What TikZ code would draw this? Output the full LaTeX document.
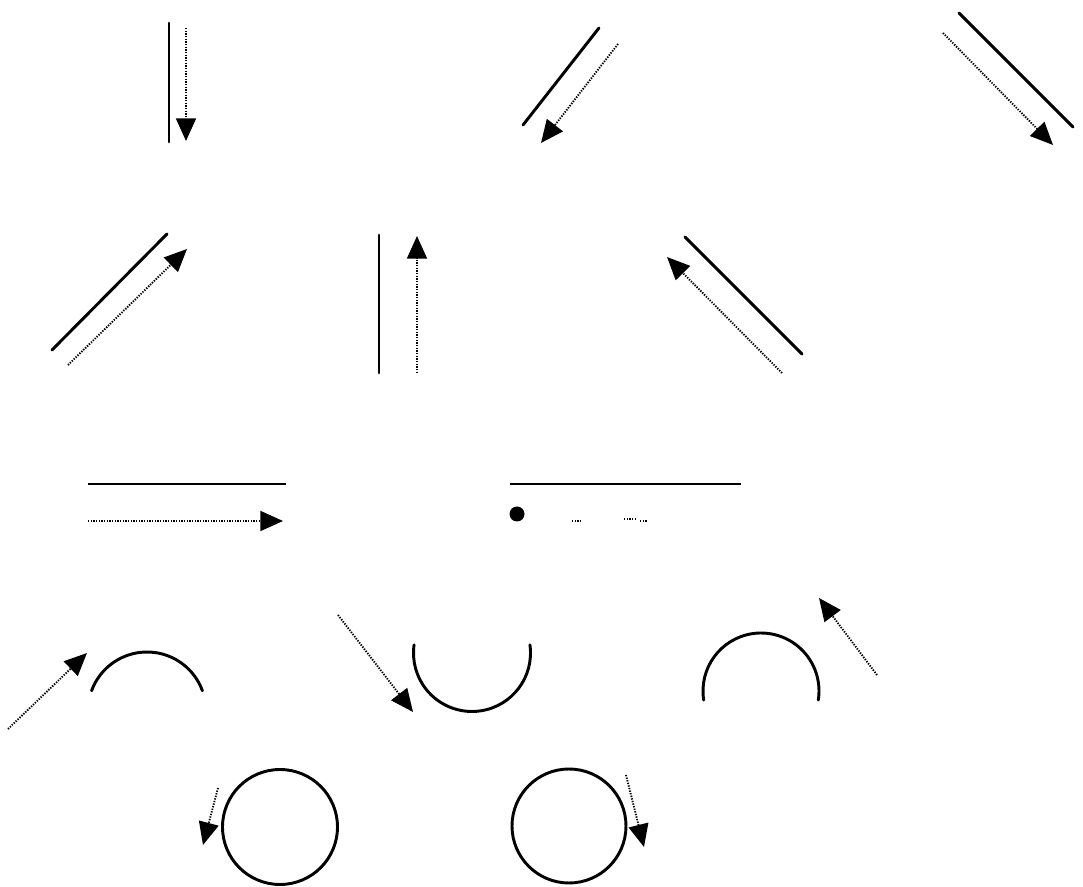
\documentclass[tikz,border=0pt]{standalone}
\usepackage{tikz}
\usetikzlibrary{arrows.meta}
\tikzset{
  surf/.style={line width=2.2pt, line cap=round},
  dots/.style={line width=1.4pt, dash pattern=on 1pt off 1pt},
  ray/.style={dots, -{Triangle[length=17pt, width=15pt]}}
}
\begin{document}
\begin{tikzpicture}[x=0.75pt, y=-0.75pt]
  \useasboundingbox (0,0) rectangle (1083,887);
  % row 1
  \draw[surf] (169,23) -- (169,142);
  \draw[ray] (186,28) -- (186,141);
  \draw[surf] (523,125) -- (599,28);
  \draw[ray] (618,44) -- (541,143);
  \draw[surf] (959,13) -- (1073,127);
  \draw[ray] (943,33) -- (1053,145);
  % row 2
  \draw[surf] (52,350) -- (167,234);
  \draw[ray] (68,365) -- (187,249);
  \draw[surf] (379,235) -- (379,373);
  \draw[ray] (417,373) -- (417,236);
  \draw[surf] (685,237) -- (802,354);
  \draw[ray] (782,373) -- (667,257);
  % row 3
  \draw[surf, line cap=butt] (88,484) -- (286,484);
  \draw[ray] (88,521) -- (283,521);
  \draw[surf, line cap=butt] (510,484) -- (741,484);
  \fill (517,514) circle[radius=7.5];
  \draw[dots] (572,521) -- (582,521);
  \draw[dots] (624,519) -- (636,519);
  \draw[dots] (640,521) -- (648,521);
  % row 4
  \draw[surf] (147,711) ++(200:59) arc[start angle=200, end angle=340, radius=59];
  \draw[ray] (8,729) -- (87,653);
  \draw[surf] (472,653) ++(-8:58.5) arc[start angle=-8, end angle=188, radius=58.5];
  \draw[ray] (338,615) -- (413,712);
  \draw[surf] (761,691) ++(171:58) arc[start angle=171, end angle=369, radius=58];
  \draw[ray] (877,675) -- (819,598);
  % row 5
  \draw[surf] (280,827) circle[radius=57.5];
  \draw[ray] (218,788) -- (203,845);
  \draw[surf] (569,826) circle[radius=57];
  \draw[ray] (626,775) -- (644,847);
\end{tikzpicture}
\end{document}
